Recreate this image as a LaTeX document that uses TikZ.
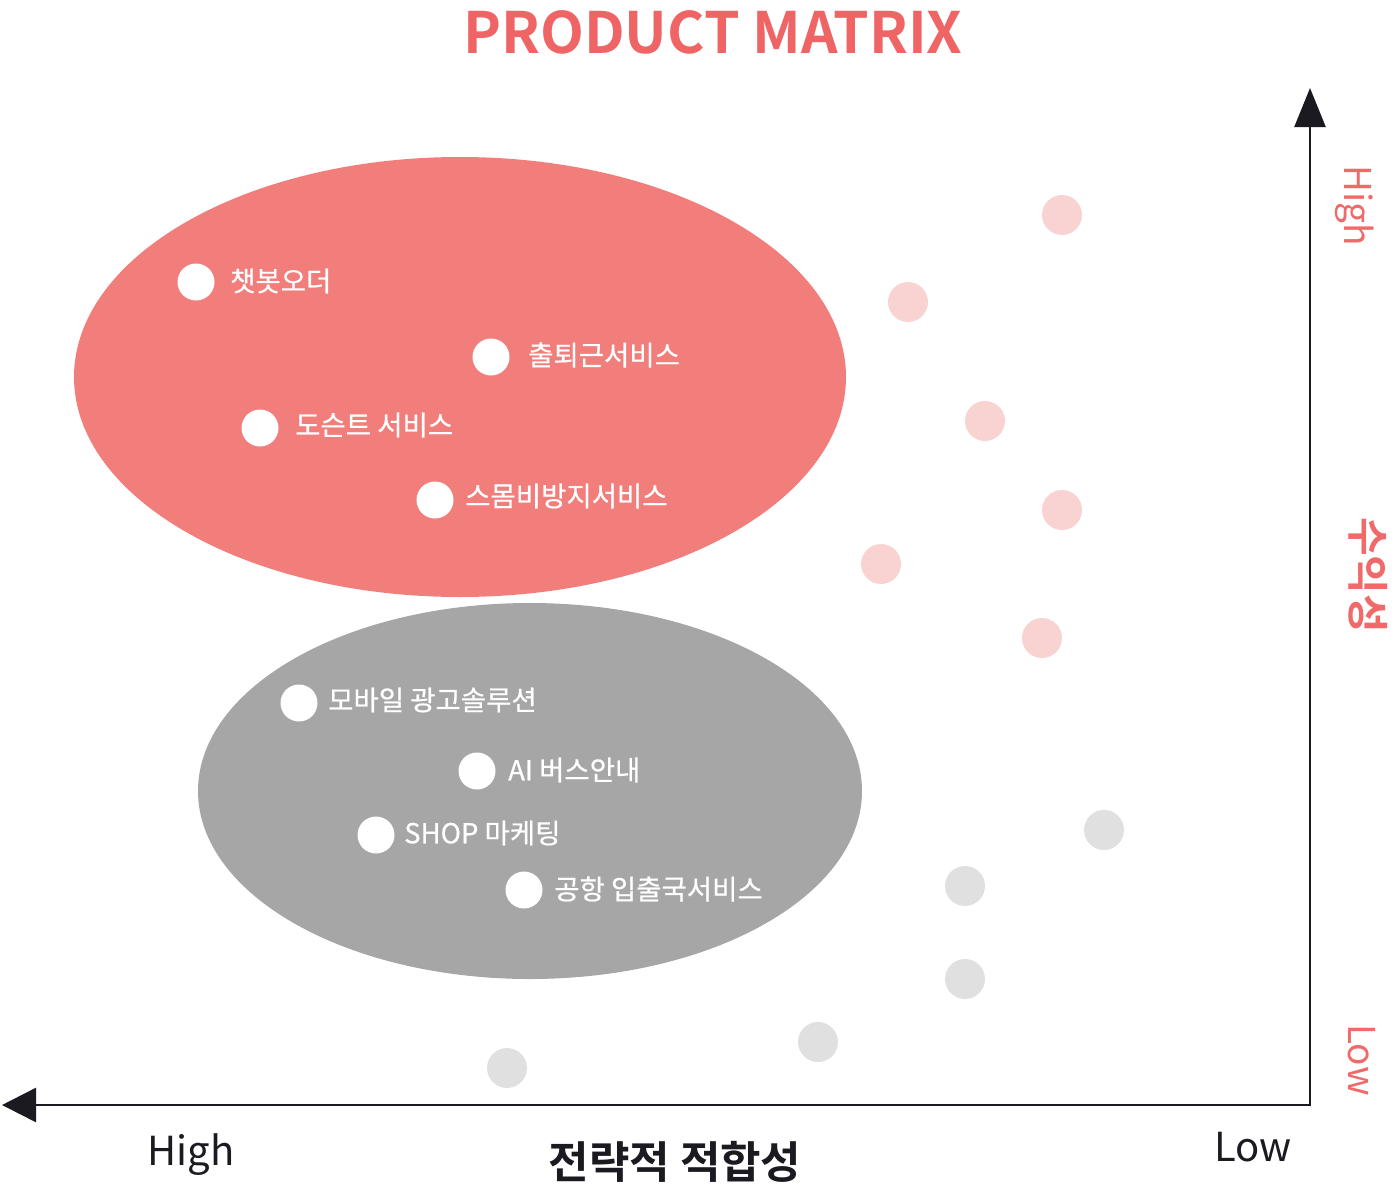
\documentclass[tikz,border=0pt]{standalone}
\usepackage{fontspec}
\setmainfont{Noto Sans CJK KR}
\newfontfamily\krbold{Noto Sans CJK KR Bold}
\newfontfamily\krmed[FakeBold=0.6]{Noto Sans CJK KR}
\usetikzlibrary{arrows.meta}
\definecolor{titlered}{HTML}{EF6464}
\definecolor{ellred}{HTML}{F27E7C}
\definecolor{ellgray}{HTML}{A6A6A6}
\definecolor{dotpink}{HTML}{F9D2D2}
\definecolor{dotgray}{HTML}{E0E0E0}
\definecolor{axiscol}{HTML}{1A1A20}
\definecolor{sidered}{HTML}{F06A6A}
\tikzset{
  wdot/.style={circle,fill=white,minimum size=37pt,inner sep=0pt},
  pdot/.style={circle,fill=dotpink,minimum size=40pt,inner sep=0pt},
  gdot/.style={circle,fill=dotgray,minimum size=40pt,inner sep=0pt},
  lbl/.style={anchor=west,inner sep=0pt,text=white,font=\krmed\fontsize{27.5}{32}\selectfont},
  axis/.style={line width=2.5pt,draw=axiscol},
  side/.style={text=sidered,rotate=-90,inner sep=0pt,font=\fontsize{37}{44}\selectfont},
}
\begin{document}
\begin{tikzpicture}[x=1pt,y=-1pt]
\useasboundingbox (0,0) rectangle (1397,1191);
% title
\node[text=titlered,font=\krbold\fontsize{57}{66}\selectfont,inner sep=0pt] (title) at (713,32) {PRODUCT MATRIX};
% ellipses
\fill[ellred] (460,377) ellipse [x radius=386, y radius=220];
\fill[ellgray] (530,791) ellipse [x radius=332, y radius=188];
% white dots and labels
\node[wdot] (d1) at (196,282) {};
\node[lbl] (l1) at (230,281) {챗봇오더};
\node[wdot] (d2) at (491,357) {};
\node[lbl] (l2) at (528,355) {출퇴근서비스};
\node[wdot] (d3) at (260,428) {};
\node[lbl] (l3) at (295,425) {도슨트 서비스};
\node[wdot] (d4) at (435,500) {};
\node[lbl] (l4) at (465,496) {스몸비방지서비스};
\node[wdot] (d5) at (299,703) {};
\node[lbl] (l5) at (328,700) {모바일 광고솔루션};
\node[wdot] (d6) at (477,771) {};
\node[lbl] (l6) at (508,770) {AI 버스안내};
\node[wdot] (d7) at (376,835) {};
\node[lbl] (l7) at (404,833) {SHOP 마케팅};
\node[wdot] (d8) at (524,890) {};
\node[lbl] (l8) at (554,889) {공항 입출국서비스};
% pink dots
\node[pdot] (p1) at (1062,215) {};
\node[pdot] (p2) at (908,302) {};
\node[pdot] (p3) at (985,421) {};
\node[pdot] (p4) at (1062,510) {};
\node[pdot] (p5) at (881,564) {};
\node[pdot] (p6) at (1042,638) {};
% gray dots
\node[gdot] (g1) at (1104,830) {};
\node[gdot] (g2) at (965,886) {};
\node[gdot] (g3) at (965,979) {};
\node[gdot] (g4) at (818,1042) {};
\node[gdot] (g5) at (507,1068) {};
% axes
\coordinate (origin) at (1310,1105);
\coordinate (ytop) at (1310,88);
\coordinate (xend) at (2,1105);
\draw[axis,-{Triangle[length=39pt,width=31pt]}] (origin) -- (ytop);
\draw[axis,-{Triangle[length=34pt,width=34pt]}] ([xshift=1.2pt]origin) -- (xend);
% axis labels
\node[side] (yh) at (1355,206) {High};
\node[side,font=\krbold\fontsize{42}{48}\selectfont] (ym) at (1368,575) {수익성};
\node[side] (yl) at (1362,1060) {Low};
\node[inner sep=0pt,text=axiscol,font=\fontsize{40}{48}\selectfont] (xh) at (191,1155) {High};
\node[inner sep=0pt,text=axiscol,font=\fontsize{40}{48}\selectfont] (xl) at (1253,1147) {Low};
\node[inner sep=0pt,text=axiscol,font=\krbold\fontsize{44}{52}\selectfont] (xm) at (675,1162) {전략적 적합성};
\end{tikzpicture}
\end{document}
